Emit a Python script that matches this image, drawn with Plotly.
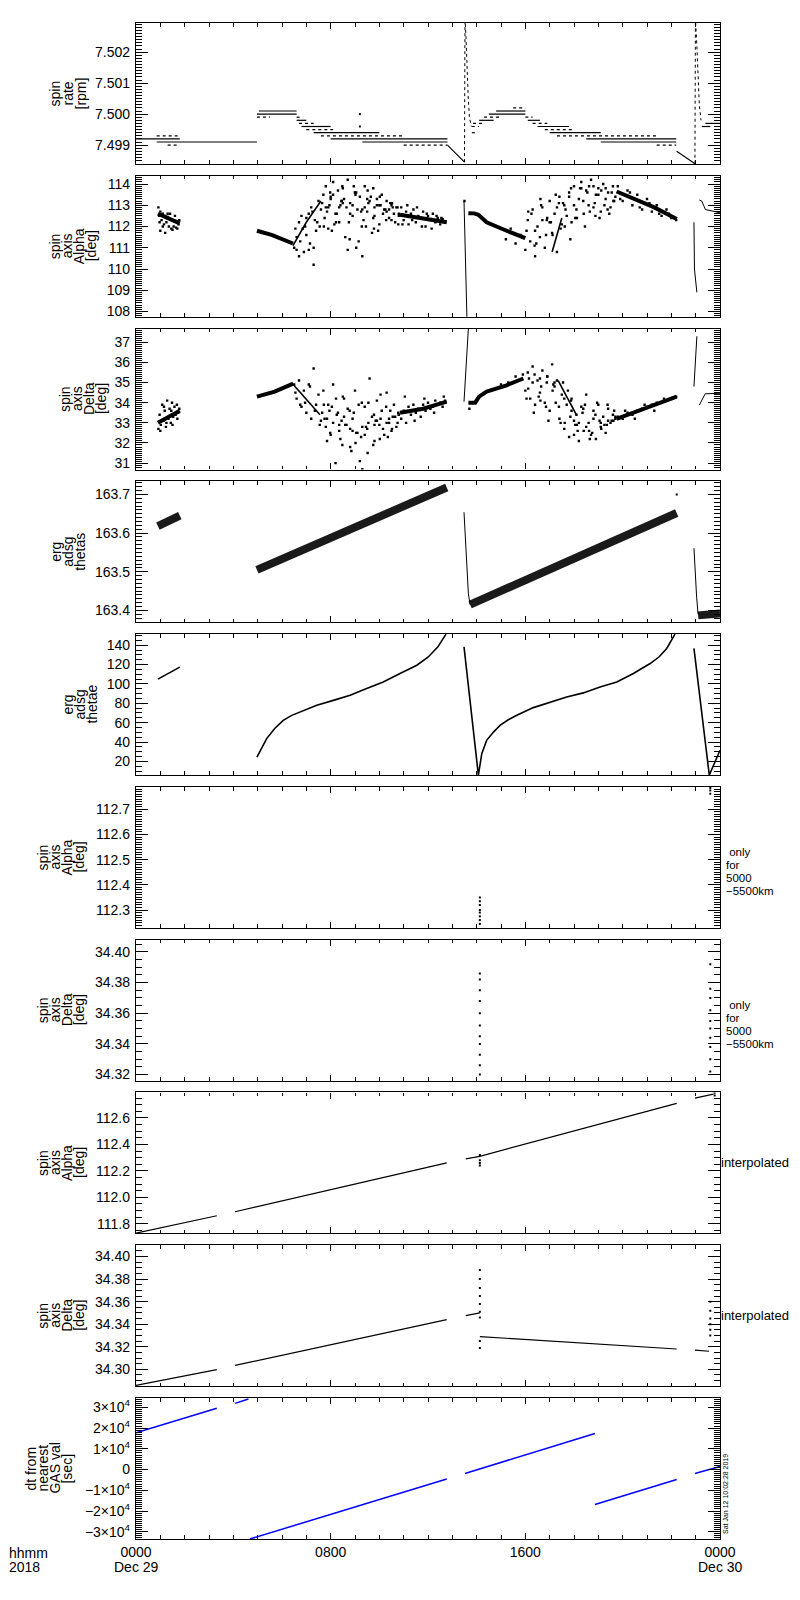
import plotly.graph_objects as go

# time axis: hours after 2018-12-29 00:00 UT
T_START, T_END = 0.0, 24.0
hour_ticks = [0, 8, 16, 24]
hour_labels = ["0000", "0800", "1600", "0000"]
date_labels = ["Dec 29", "Dec 30"]

# ---------------- panel 1 : spin rate [rpm] ----------------
rate_solid_t0 = [0.0, 0.85, 4.97, 5.05, 6.6, 6.8, 7.3, 8.0, 9.3,
                 14.1, 14.5, 14.8, 16.1, 16.5, 17.0, 18.5, 19.1, 23.25, 23.4]
rate_solid_t1 = [1.8, 4.97, 6.6, 6.6, 7.0, 8.0, 10.0, 12.8, 12.8,
                 14.7, 16.0, 16.0, 16.6, 17.8, 19.1, 22.2, 22.2, 23.6, 24.0]
rate_solid_v = [7.4992, 7.4991, 7.5000, 7.5001, 7.4998, 7.4996, 7.4994, 7.4992, 7.4991,
                7.4998, 7.5000, 7.5001, 7.4998, 7.4996, 7.4994, 7.4992, 7.4991, 7.4996, 7.4997]
rate_dot_t0 = [0.85, 1.3, 4.97, 6.6, 6.7, 7.0, 7.6, 11.0,
               13.8, 13.8, 13.85, 14.3, 15.5, 16.0, 16.3, 16.8, 17.3, 21.4]
rate_dot_t1 = [1.8, 1.8, 5.5, 6.8, 7.3, 8.1, 11.0, 12.8,
               14.0, 14.1, 14.3, 15.0, 16.0, 16.3, 16.9, 18.0, 21.4, 22.2]
rate_dot_v = [7.4993, 7.4990, 7.4999, 7.4999, 7.4997, 7.4995, 7.4993, 7.4990,
              7.4994, 7.4996, 7.4997, 7.4999, 7.5002, 7.4999, 7.4997, 7.4995, 7.4993, 7.4990]
rate_ramp_t = [[12.8, 13.5], [22.22, 22.97]]
rate_ramp_v = [[7.4990, 7.49845], [7.4988, 7.4984]]
rate_spike_t = [[13.5, 13.52, 13.56, 13.6, 13.65, 13.7, 13.78],
                [22.97, 22.99, 23.05, 23.1, 23.15, 23.22]]
rate_spike_v = [[7.49845, 7.5031, 7.5025, 7.5015, 7.5006, 7.4999, 7.4996],
                [7.4984, 7.5031, 7.5022, 7.5012, 7.5003, 7.4998]]
rate_pt_t = [9.2, 9.2]
rate_pt_v = [7.5000, 7.4996]

# ---------------- panel 2 : spin axis Alpha [deg] ----------------
alpha_band_t = [[0.9, 1.8], [4.97, 5.6, 6.45], [10.85, 12.77],
                [13.66, 13.9, 14.07, 14.41, 14.96, 15.5, 16.0], [19.75, 20.5, 21.3, 22.22]]
alpha_band_v = [[112.6, 112.15], [111.8, 111.6, 111.2], [112.55, 112.2],
                [112.63, 112.62, 112.55, 112.2, 111.93, 111.69, 111.45], [113.65, 113.3, 112.9, 112.35]]
alpha_streak_t = [[6.45, 7.0, 7.6], [17.1, 17.5]]
alpha_streak_v = [[111.1, 112.2, 113.2], [110.8, 112.4]]
alpha_line_t = [[13.48, 13.5, 13.55, 13.6], [22.93, 22.95, 23.05], [23.15, 23.25, 23.4, 23.6, 24.0]]
alpha_line_v = [[113.2, 112.2, 110.0, 107.7], [112.2, 110.0, 108.9], [113.25, 113.2, 112.8, 112.75, 112.65]]
alpha_dot_t = [
    0.92, 0.95, 1.0, 1.05, 1.1, 1.15, 1.2, 1.25, 1.3, 1.35, 1.4, 1.45, 1.5, 1.55, 1.6, 1.65, 1.7, 1.75,
    1.0, 1.2, 1.4, 1.6, 1.1, 1.3, 1.5, 1.7, 0.97, 1.78,
    6.5, 6.55, 6.6, 6.7, 6.75, 6.8, 6.9, 6.95, 7.0, 7.1, 7.15, 7.2, 7.3, 7.35, 7.4, 7.5, 7.55,
    6.6, 6.7, 6.85, 7.0, 7.1, 7.25, 7.3, 7.45, 7.6,
    7.7, 7.75, 7.8, 7.9, 8.0, 8.05, 8.1, 8.2, 8.3, 8.35, 8.4, 8.5, 8.6, 8.65, 8.7, 8.8, 8.9, 9.0, 9.05,
    9.1, 9.2, 9.3, 9.35, 9.4, 9.5, 9.6, 9.7, 9.75, 9.8, 9.9, 10.0, 10.1, 10.2, 10.3, 10.4, 10.5, 10.6,
    10.7, 10.8,
    7.8, 8.0, 8.25, 8.5, 8.75, 9.0, 9.25, 9.5, 9.75, 10.0, 10.25, 10.5, 10.75,
    7.9, 8.15, 8.45, 8.7, 8.95, 9.15, 9.45, 9.65, 9.95, 10.15, 10.45, 10.65,
    10.9, 11.0, 11.1, 11.2, 11.3, 11.4, 11.5, 11.6, 11.7, 11.8, 11.9, 12.0, 12.1, 12.2, 12.3, 12.4,
    12.5, 12.6, 12.7,
    10.95, 11.15, 11.35, 11.55, 11.75, 11.95, 12.15, 12.35, 12.55,
    15.2, 15.4, 15.6, 15.8, 16.0, 16.1, 16.2, 16.3, 16.4, 16.5, 16.6, 16.7, 16.8, 16.9, 17.0, 17.1,
    17.2, 17.3, 17.4, 17.5, 17.6, 17.7, 17.8, 17.9, 18.0, 18.1, 18.2, 18.3, 18.4, 18.5, 18.6, 18.7,
    18.8, 18.9, 19.0, 19.1, 19.2, 19.3, 19.4, 19.5, 19.6, 19.7,
    16.05, 16.25, 16.45, 16.65, 16.85, 17.05, 17.25, 17.45, 17.65, 17.85, 18.05, 18.25, 18.45, 18.65,
    18.85, 19.05, 19.25, 19.45, 19.65,
    19.8, 20.0, 20.2, 20.4, 20.6, 20.8, 21.0, 21.2, 21.4, 21.6, 21.8, 22.0, 22.2,
    19.9, 20.3, 20.7, 21.1, 21.5, 21.9, 13.5,
    7.72, 7.98, 8.22, 8.48, 8.78, 9.02, 9.28, 9.52, 9.78, 10.02, 10.28, 10.52, 10.78,
    16.12, 16.38, 16.62, 16.88, 17.12, 17.38, 17.62, 17.88, 18.12, 18.38, 18.62, 18.88, 19.12,
    19.38, 19.62,
    7.65, 7.85, 8.1, 8.35, 8.55, 8.8, 9.05, 9.3, 9.55, 9.8, 10.05, 10.3, 10.55, 10.8, 7.95, 8.45,
    8.9, 9.4, 9.9, 10.4,
    17.0, 17.3, 17.55, 17.8, 18.0, 18.3, 18.55, 18.8, 19.0, 19.3, 19.55, 16.4, 16.7]
alpha_dot_v = [
    112.9, 112.5, 112.7, 112.3, 112.6, 112.1, 112.5, 112.2, 112.45, 112.0, 112.35, 111.9, 112.3, 112.0,
    112.25, 111.95, 112.2, 112.1,
    111.8, 111.7, 112.6, 112.5, 112.0, 112.6, 111.85, 111.9, 112.2, 112.3,
    111.0, 111.9, 110.9, 112.2, 111.3, 112.5, 110.8, 112.0, 111.6, 112.6, 111.2, 112.9, 110.2, 112.3,
    111.8, 113.2, 112.0,
    111.5, 110.6, 111.9, 112.4, 110.9, 112.7, 111.0, 112.2, 112.8,
    113.5, 112.4, 113.9, 112.9, 113.3, 111.8, 114.1, 112.6, 113.7, 112.2, 113.0, 113.8, 111.5, 112.9,
    114.2, 113.1, 112.5, 113.6, 111.0, 112.8, 113.4, 110.6, 112.3, 113.9, 112.7, 113.2, 111.7, 113.8,
    112.5, 113.0, 112.1, 113.5, 112.8, 113.2, 112.4, 113.0, 112.6, 112.9, 112.5,
    112.9, 113.4, 112.6, 113.1, 112.2, 113.6, 112.7, 113.3, 112.4, 113.0, 112.8, 112.3, 112.9,
    111.9, 112.1, 113.2, 110.9, 113.9, 111.3, 112.0, 113.4, 111.8, 112.6, 113.1, 112.2,
    112.9, 112.3, 112.7, 112.1, 112.6, 112.8, 112.2, 112.5, 112.4, 112.7, 112.0, 112.5, 112.3, 112.6,
    112.2, 112.4, 112.1, 112.35, 112.2,
    112.1, 113.0, 112.3, 112.9, 112.0, 112.6, 111.9, 112.5, 112.4,
    111.4, 111.9, 111.2, 111.6, 110.9, 112.3, 111.3, 112.8, 110.6, 112.0, 111.5, 112.9, 111.0, 112.4,
    113.2, 111.7, 112.6, 110.8, 113.4, 112.1, 113.0, 112.5, 113.6, 112.2, 113.9, 112.8, 113.3, 114.1,
    112.6, 113.7, 113.0, 114.2, 112.9, 113.5, 113.8, 112.7, 114.0, 113.3, 113.6, 112.9, 113.9, 113.4,
    111.8, 112.6, 111.2, 113.0, 111.6, 112.2, 113.5, 111.9, 112.8, 111.4, 112.4, 113.8, 112.0, 112.7,
    113.1, 112.4, 113.0, 112.6, 113.2,
    113.9, 113.2, 113.7, 113.0, 113.5, 112.8, 113.3, 112.7, 113.0, 112.5, 112.8, 112.4, 112.3,
    113.3, 113.6, 112.9, 113.1, 112.6, 112.6, 113.2,
    112.0, 113.6, 112.2, 113.9, 111.4, 113.5, 112.0, 113.7, 111.9, 113.4, 112.3, 113.1, 112.1,
    112.7, 111.1, 113.3, 112.3, 111.6, 113.1, 112.0, 113.8, 112.4, 113.2, 113.9, 112.5, 113.7,
    112.8, 113.2,
    113.1, 112.7, 113.5, 112.9, 113.3, 112.6, 113.6, 112.8, 113.1, 112.9, 113.0, 112.7, 112.9, 112.6,
    113.0, 113.2, 113.0, 112.9, 113.3, 112.8,
    112.2, 112.9, 113.1, 113.4, 113.0, 113.8, 113.6, 113.9, 113.5, 113.8, 113.6, 111.8, 112.3]

# ---------------- panel 3 : spin axis Delta [deg] ----------------
delta_band_t = [[0.9, 1.8], [4.97, 5.7, 6.46], [10.85, 11.8, 12.77],
                [13.66, 13.94, 14.1, 14.41, 15.2, 15.92], [19.75, 21.0, 22.22]]
delta_band_v = [[33.0, 33.6], [34.3, 34.55, 34.95], [33.5, 33.7, 34.05],
                [34.0, 34.0, 34.3, 34.55, 34.85, 35.2], [33.2, 33.75, 34.3]]
delta_streak_t = [[6.46, 7.56], [17.35, 18.1]]
delta_streak_v = [[34.9, 33.4], [35.1, 33.4]]
delta_line_t = [[13.48, 13.55, 13.66], [22.93, 23.0, 23.05], [23.15, 23.39, 24.0]]
delta_line_v = [[34.05, 35.5, 37.7], [34.8, 36.5, 37.3], [33.88, 34.44, 34.47]]
delta_dot_t = [
    0.92, 0.97, 1.02, 1.08, 1.13, 1.18, 1.23, 1.28, 1.33, 1.38, 1.43, 1.48, 1.53, 1.58, 1.63, 1.68,
    1.73, 1.78, 1.0, 1.25, 1.5, 1.7, 1.15, 1.45,
    6.5, 6.6, 6.7, 6.8, 6.9, 7.0, 7.1, 7.2, 7.3, 7.4, 7.5, 7.6, 6.55, 6.75, 6.95, 7.15, 7.35, 7.55,
    7.7, 7.8, 7.9, 8.0, 8.1, 8.2, 8.3, 8.4, 8.5, 8.6, 8.7, 8.8, 8.9, 9.0, 9.1, 9.2, 9.3, 9.4, 9.5,
    9.6, 9.7, 9.8, 9.9, 10.0, 10.1, 10.2, 10.3, 10.4, 10.5, 10.6, 10.7, 10.8,
    7.75, 8.05, 8.35, 8.65, 8.95, 9.25, 9.55, 9.85, 10.15, 10.45, 10.75,
    7.85, 8.25, 8.55, 8.85, 9.15, 9.45, 9.75, 10.05, 10.35, 10.65,
    10.9, 11.0, 11.1, 11.2, 11.3, 11.4, 11.5, 11.6, 11.7, 11.8, 11.9, 12.0, 12.1, 12.2, 12.3, 12.4,
    12.5, 12.6, 12.7, 11.05, 11.45, 11.85, 12.25, 12.65,
    15.0, 15.3, 15.6, 15.9, 16.0, 16.1, 16.2, 16.3, 16.4, 16.5, 16.6, 16.7, 16.8, 16.9, 17.0, 17.1,
    17.2, 17.3, 17.4, 17.5, 17.6, 17.7, 17.8, 17.9, 18.0, 18.1, 18.2, 18.3, 18.4, 18.5, 18.6, 18.7,
    18.8, 18.9, 19.0, 19.1, 19.2, 19.3, 19.4, 19.5, 19.6, 19.7,
    16.05, 16.35, 16.65, 16.95, 17.25, 17.55, 17.85, 18.15, 18.45, 18.75, 19.05, 19.35, 19.65,
    16.15, 16.55, 16.85, 17.15, 17.45, 17.75, 18.05, 18.35, 18.65, 18.95, 19.25, 19.55,
    19.8, 20.0, 20.2, 20.4, 20.6, 20.8, 21.0, 21.2, 21.4, 21.6, 21.8, 22.0, 22.2,
    20.1, 20.5, 20.9, 21.3, 21.7, 13.7,
    7.72, 7.98, 8.22, 8.48, 8.78, 9.02, 9.28, 9.52, 9.78, 10.02, 10.28, 10.52, 10.78,
    16.12, 16.38, 16.62, 16.88, 17.12, 17.38, 17.62, 17.88, 18.12, 18.38, 18.62, 18.88, 19.12,
    19.38, 19.62,
    7.65, 7.85, 8.1, 8.35, 8.55, 8.8, 9.05, 9.3, 9.55, 9.8, 10.05, 10.3, 10.55, 10.8, 7.95, 8.45,
    8.9, 9.4, 9.9, 10.4,
    16.3, 16.6, 16.9, 17.2, 17.6, 17.9, 18.2, 18.5, 18.8, 19.1, 19.4, 19.7, 18.0]
delta_dot_v = [
    32.7, 33.4, 32.9, 33.9, 33.1, 33.6, 32.8, 34.1, 33.2, 33.7, 33.0, 34.0, 33.3, 33.8, 33.4, 33.9,
    33.5, 33.7, 32.6, 33.0, 32.9, 33.2, 33.8, 33.6,
    34.9, 34.2, 35.1, 33.8, 34.6, 33.5, 34.9, 33.2, 35.7, 33.9, 34.4, 33.1, 34.5, 33.9, 34.0, 34.8,
    33.6, 32.9,
    34.6, 32.8, 33.9, 32.4, 34.9, 31.0, 33.5, 32.2, 34.3, 32.9, 33.7, 31.8, 33.2, 34.6, 32.5, 31.1,
    30.7, 33.8, 32.7, 35.2, 33.3, 32.1, 34.1, 32.9, 33.6, 32.4, 34.5, 33.0, 32.6, 33.9, 32.8, 33.4,
    33.2, 33.8, 32.6, 32.9, 33.5, 32.3, 34.0, 33.1, 32.7, 33.6, 33.0,
    32.1, 33.4, 34.2, 31.6, 33.9, 32.8, 31.9, 34.4, 32.3, 33.3,
    33.2, 33.6, 33.0, 33.8, 33.4, 33.9, 33.5, 33.7, 33.3, 33.9, 33.6, 34.0, 33.7, 33.8, 34.1, 33.9,
    34.0, 33.8, 34.1, 34.3, 33.1, 34.2, 33.5, 34.3,
    34.9, 35.0, 35.3, 35.4, 34.6, 35.5, 34.2, 35.8, 33.9, 35.1, 34.5, 35.6, 34.0, 35.3, 33.6, 35.9,
    34.8, 35.1, 33.2, 34.4, 32.7, 33.9, 32.3, 34.2, 33.1, 33.4, 32.1, 33.8, 32.6, 34.4, 33.0, 32.4,
    33.6, 32.2, 33.9, 32.8, 33.3, 32.5, 33.7, 33.0, 33.4, 33.2,
    34.2, 33.5, 34.8, 33.1, 34.0, 35.0, 33.3, 32.6, 33.9, 32.5, 33.1, 32.9, 33.6,
    35.2, 34.3, 33.8, 34.9, 33.0, 34.6, 32.9, 33.5, 32.2, 34.0, 32.9, 33.1,
    33.3, 33.2, 33.5, 33.4, 33.6, 33.7, 33.8, 33.9, 34.0, 34.0, 34.1, 34.2, 34.3,
    33.6, 33.2, 33.9, 33.6, 34.2, 33.7,
    33.9, 32.5, 34.2, 31.9, 33.6, 32.0, 34.0, 31.5, 33.4, 32.2, 33.8, 32.7, 33.5,
    34.7, 35.4, 34.1, 35.0, 34.6, 33.8, 33.0, 34.1, 32.9, 33.7, 32.6, 33.4, 32.7,
    33.9, 33.1,
    33.5, 33.2, 33.0, 32.9, 33.3, 32.7, 32.5, 32.8, 33.0, 32.9, 33.2, 33.0, 33.3, 33.4, 33.6, 33.1,
    32.6, 32.4, 33.1, 33.2,
    35.0, 35.2, 35.3, 35.0, 34.2, 33.6, 33.0, 32.8, 33.2, 33.0, 33.1, 33.3, 32.4]

# ---------------- panel 4 : erg adsg thetas ----------------
thetas_band_t = [[0.9, 1.8], [4.97, 12.77], [13.73, 22.22], [23.1, 24.0]]
thetas_band_v = [[163.618, 163.645], [163.505, 163.718], [163.415, 163.652], [163.387, 163.392]]
thetas_line_t = [[13.48, 13.59, 13.66, 13.73], [22.93, 23.0, 23.04, 23.1]]
thetas_line_v = [[163.654, 163.504, 163.443, 163.415], [163.561, 163.47, 163.434, 163.39]]
thetas_pt_t = [22.22]
thetas_pt_v = [163.70]

# ---------------- panel 5 : erg adsg thetae ----------------
thetae_t = [[0.9, 1.8],
            [4.97, 5.1, 5.37, 5.7, 6.05, 6.4, 6.74, 7.43, 8.11, 8.8, 9.48, 10.16, 10.85, 11.54,
             12.0, 12.4, 12.74],
            [13.48, 14.07, 14.21, 14.41, 14.7, 14.96, 15.3, 15.65, 16.33, 17.02, 17.7, 18.38,
             19.07, 19.76, 20.44, 21.13, 21.5, 21.81, 22.15],
            [22.93, 23.56, 24.0]]
thetae_v = [[104.9, 117.3],
            [24.5, 31.0, 43.5, 54.0, 62.4, 67.5, 71.0, 77.9, 83.0, 88.3, 95.2, 102.0, 110.7, 119.3,
             127.5, 138.0, 151.4],
            [138.3, 5.8, 28.0, 41.7, 50.5, 57.2, 63.0, 67.6, 75.5, 81.3, 86.5, 90.7, 96.9, 102.0,
             110.7, 121.0, 128.0, 136.6, 151.4],
            [136.6, 5.8, 31.4]]

# ---------------- panels 6, 7 : only for 5000-5500km ----------------
alpha_r_t = [14.13] * 8 + [23.6] * 3
alpha_r_v = [112.35, 112.335, 112.32, 112.30, 112.29, 112.275, 112.26, 112.245,
             112.785, 112.775, 112.762]
delta_r_t = [14.13] * 11 + [23.6] * 10
delta_r_v = [34.386, 34.382, 34.375, 34.368, 34.36, 34.352, 34.345, 34.34, 34.333, 34.326, 34.32,
             34.392, 34.376, 34.37, 34.362, 34.355, 34.35, 34.344, 34.338, 34.33, 34.322]

# ---------------- panels 8, 9 : interpolated ----------------
alpha_i_t = [[0.0, 3.32], [4.07, 12.77], [13.55, 14.13, 22.22], [22.97, 23.73]]
alpha_i_v = [[111.728, 111.86], [111.89, 112.26], [112.29, 112.31, 112.71], [112.75, 112.78]]
alpha_i_pt_t = [14.13, 14.13, 14.13, 14.13, 23.78, 23.78]
alpha_i_pt_v = [112.32, 112.28, 112.26, 112.24, 112.79, 112.77]
delta_i_t = [[0.0, 3.32], [4.07, 12.77], [13.55, 14.13], [14.13, 22.22], [22.97, 23.55]]
delta_i_v = [[34.2857, 34.2997], [34.3035, 34.344], [34.3476, 34.350], [34.329, 34.318],
             [34.317, 34.316]]
delta_i_pt_t = [14.13] * 9 + [23.6] * 6
delta_i_pt_v = [34.388, 34.38, 34.372, 34.365, 34.358, 34.351, 34.346, 34.325, 34.319,
                34.36, 34.352, 34.345, 34.34, 34.335, 34.33]

# ---------------- panel 10 : dt from nearest GAS val [sec] ----------------
dt_t = [[0.0, 3.32], [4.07, 4.62], [4.68, 12.77], [13.52, 18.86], [18.86, 22.22], [22.97, 24.0]]
dt_v = [[17700, 29600], [31900, 34000], [-33500, -4600], [-1900, 17400], [-16900, -4800],
        [-1900, 1500]]
dt_tickvals = [-30000, -20000, -10000, 0, 10000, 20000, 30000]
dt_ticktext = ["−3×10<sup>4</sup>", "−2×10<sup>4</sup>", "−1×10<sup>4</sup>", "0",
               "1×10<sup>4</sup>", "2×10<sup>4</sup>", "3×10<sup>4</sup>"]

# ---------------- panel axis settings ----------------
y_ranges = [[7.49839, 7.50294], [107.75, 114.39], [30.68, 37.68], [163.369, 163.734],
            [5.8, 151.4], [112.229, 112.789], [34.316, 34.408], [111.726, 112.793],
            [34.285, 34.410], [-33500, 34500]]
y_dtick = [0.001, 1, 1, 0.1, 20, 0.1, 0.02, 0.2, 0.02, 10000]
y_minor = [0.0001, 0.1, 0.1, 0.01, 5, 0.01, 0.005, 0.05, 0.005, 1000]
y_fmt = [".3f", "d", "d", ".1f", "d", ".1f", ".2f", ".1f", ".2f", "d"]
y_titles = [["spin", "rate", "[rpm]"], ["spin", "axis", "Alpha", "[deg]"],
            ["spin", "axis", "Delta", "[deg]"], ["erg", "adsg", "thetas"],
            ["erg", "adsg", "thetae"], ["spin", "axis", "Alpha", "[deg]"],
            ["spin", "axis", "Delta", "[deg]"], ["spin", "axis", "Alpha", "[deg]"],
            ["spin", "axis", "Delta", "[deg]"], ["dt from", "nearest", "GAS val", "[sec]"]]
title_x_px = [[55, 68, 81], [55, 67, 79, 91], [65, 77, 89, 101], [56, 68, 80], [68, 80, 92],
              [43, 55, 67, 79], [43, 55, 67, 79], [43, 55, 67, 79], [43, 55, 67, 79],
              [31, 43, 55, 67]]
right_note = ["\u00a0only", "for", "5000", "−5500km"]

W, H = 800, 1600
ML, MR, MT, MB = 136, 80, 23, 61
PLOT_H = H - MT - MB
PLOT_W = W - ML - MR
PANEL_STEP, PANEL_H = 152.78, 141
FONT = "Liberation Sans"


def px_x(px):
    return (px - ML) / PLOT_W


def px_y(py):
    return (H - MB - py) / PLOT_H


def levels(t0s, t1s, vs):
    x, y = [], []
    for a, b, v in zip(t0s, t1s, vs):
        x += [a, b, None]
        y += [v, v, None]
    return x, y


def joined(ts, vs):
    x, y = [], []
    for a, b in zip(ts, vs):
        x += list(a) + [None]
        y += list(b) + [None]
    return x, y


fig = go.Figure()


def add_line(panel, x, y, width=1.0, dash="solid", color="black"):
    fig.add_trace(go.Scatter(x=x, y=y, mode="lines", xaxis=f"x{panel}", yaxis=f"y{panel}",
                             line=dict(color=color, width=width, dash=dash),
                             connectgaps=False, hoverinfo="skip"))


def add_dots(panel, x, y, size=2.4):
    fig.add_trace(go.Scatter(x=x, y=y, mode="markers", xaxis=f"x{panel}", yaxis=f"y{panel}",
                             marker=dict(color="black", size=size, symbol="square",
                                         line=dict(width=0)),
                             hoverinfo="skip"))


# panel 1
add_line(1, *levels(rate_solid_t0, rate_solid_t1, rate_solid_v), width=1.2)
add_line(1, *levels(rate_dot_t0, rate_dot_t1, rate_dot_v), width=1.2, dash="dot")
add_line(1, *joined(rate_ramp_t, rate_ramp_v), width=1.2)
add_line(1, *joined(rate_spike_t, rate_spike_v), width=1.0, dash="dot")
add_dots(1, rate_pt_t, rate_pt_v, size=2)

# panel 2
add_dots(2, alpha_dot_t, alpha_dot_v)
add_line(2, *joined(alpha_band_t, alpha_band_v), width=4)
add_line(2, *joined(alpha_streak_t, alpha_streak_v), width=1.6)
add_line(2, *joined(alpha_line_t, alpha_line_v), width=1.0)

# panel 3
add_dots(3, delta_dot_t, delta_dot_v)
add_line(3, *joined(delta_band_t, delta_band_v), width=4)
add_line(3, *joined(delta_streak_t, delta_streak_v), width=1.6)
add_line(3, *joined(delta_line_t, delta_line_v), width=1.0)

# panel 4
add_line(4, *joined(thetas_band_t, thetas_band_v), width=8, color="#1a1a1a")
add_line(4, *joined(thetas_line_t, thetas_line_v), width=1.0)
add_dots(4, thetas_pt_t, thetas_pt_v, size=2)

# panel 5
add_line(5, *joined(thetae_t, thetae_v), width=1.6)

# panels 6, 7
add_dots(6, alpha_r_t, alpha_r_v, size=2)
add_dots(7, delta_r_t, delta_r_v, size=2)

# panels 8, 9
add_line(8, *joined(alpha_i_t, alpha_i_v), width=1.2)
add_dots(8, alpha_i_pt_t, alpha_i_pt_v, size=2)
add_line(9, *joined(delta_i_t, delta_i_v), width=1.2)
add_dots(9, delta_i_pt_t, delta_i_pt_v, size=2)

# panel 10
add_line(10, *joined(dt_t, dt_v), width=1.5, color="#0000ff")

layout = dict(width=W, height=H, autosize=False, showlegend=False,
              margin=dict(l=ML, r=MR, t=MT, b=MB),
              paper_bgcolor="white", plot_bgcolor="white",
              font=dict(family=FONT, size=14, color="black"))

annotations = []
for i in range(10):
    n = i + 1
    top = MT + i * PANEL_STEP
    bot = top + PANEL_H
    xa = dict(domain=[0, 1], range=[T_START, T_END], anchor=f"y{n}",
              showline=True, linecolor="black", linewidth=1.3, mirror="ticks",
              ticks="inside", ticklen=6, tickwidth=1, tickcolor="black",
              tickmode="array", tickvals=hour_ticks, showgrid=False, zeroline=False,
              minor=dict(ticks="inside", dtick=1, tick0=0, ticklen=3.5, tickcolor="black",
                         tickwidth=1, showgrid=False),
              showticklabels=(n == 10), fixedrange=True)
    if n == 10:
        xa.update(ticktext=hour_labels, tickfont=dict(size=14), ticklabelstandoff=0)
    else:
        xa.update(matches="x10")
    ya = dict(domain=[max(0.0, px_y(bot)), min(1.0, px_y(top))], range=y_ranges[i],
              anchor=f"x{n}",
              showline=True, linecolor="black", linewidth=1.3, mirror="ticks",
              ticks="inside", ticklen=12, tickwidth=1, tickcolor="black",
              showgrid=False, zeroline=False, tickfont=dict(size=14),
              minor=dict(ticks="inside", dtick=y_minor[i], ticklen=6, tickcolor="black",
                         tickwidth=1, showgrid=False),
              ticklabelstandoff=2, fixedrange=True)
    if n == 10:
        ya.update(tickmode="array", tickvals=dt_tickvals, ticktext=dt_ticktext,
                  minor=dict(ticks="inside", dtick=y_minor[i], tick0=0, ticklen=6,
                             tickcolor="black", tickwidth=1, showgrid=False))
    else:
        ya.update(tickmode="linear", dtick=y_dtick[i], tick0=0, tickformat=y_fmt[i])
    layout["xaxis" if n == 1 else f"xaxis{n}"] = xa
    layout["yaxis" if n == 1 else f"yaxis{n}"] = ya

    mid = (top + bot) / 2
    for txt, xp in zip(y_titles[i], title_x_px[i]):
        annotations.append(dict(text=txt, x=px_x(xp), y=px_y(mid), xref="paper", yref="paper",
                                xanchor="center", yanchor="middle", textangle=-90,
                                showarrow=False, font=dict(size=14)))
    if n in (6, 7):
        for k, txt in enumerate(right_note):
            annotations.append(dict(text=txt, x=px_x(725), y=px_y(mid - 5 + 13 * k),
                                    xref="paper", yref="paper", xanchor="left",
                                    yanchor="middle", showarrow=False, borderpad=0,
                                    font=dict(size=11.5)))
    if n in (8, 9):
        annotations.append(dict(text="interpolated", x=px_x(719), y=px_y(mid), xref="paper",
                                yref="paper", xanchor="left", yanchor="middle",
                                showarrow=False, font=dict(size=13)))

# bottom labels
for xv, txt in zip([T_START, T_END], date_labels):
    annotations.append(dict(text=txt, x=xv, y=px_y(1567), xref="x10", yref="paper",
                            xanchor="center", yanchor="middle", showarrow=False,
                            font=dict(size=14)))
annotations.append(dict(text="hhmm", x=px_x(7), y=px_y(1553), xref="paper", yref="paper",
                        xanchor="left", yanchor="middle", showarrow=False, font=dict(size=14)))
annotations.append(dict(text="2018", x=px_x(7), y=px_y(1567), xref="paper", yref="paper",
                        xanchor="left", yanchor="middle", showarrow=False, font=dict(size=14)))
annotations.append(dict(text="Sat Jan 12 10:02:28 2019", x=px_x(725), y=px_y(1494),
                        xref="paper", yref="paper", xanchor="center", yanchor="middle",
                        textangle=-90, showarrow=False, font=dict(size=7)))
layout["annotations"] = annotations

fig.update_layout(layout)
fig.write_html("out.html", config={"displayModeBar": False},
               post_script="document.body.style.margin='0';"
                           "document.body.style.overflow='hidden';")
